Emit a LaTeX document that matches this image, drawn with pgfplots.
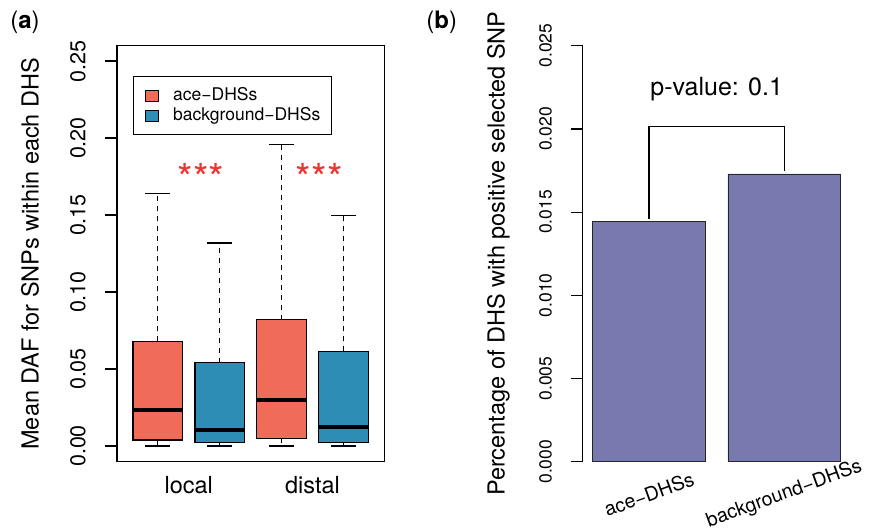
\documentclass[border=0pt]{standalone}
\usepackage{fontspec}
\setmainfont{TeX Gyre Heros}
\usepackage{pgfplots}
\pgfplotsset{compat=1.18}
\usepgfplotslibrary{statistics}
\definecolor{acecol}{RGB}{241,107,89}
\definecolor{bgcol}{RGB}{46,141,181}
\definecolor{barcol}{RGB}{120,122,175}
\definecolor{starcol}{RGB}{240,50,50}
\pgfplotsset{
  myboxstyle/.style={
    boxplot/draw/upper whisker/.code={%
      \draw[dash pattern=on 5pt off 5pt] (boxplot box cs:\pgfplotsboxplotvalue{upper quartile},0.5) -- (boxplot box cs:\pgfplotsboxplotvalue{upper whisker},0.5);
      \draw[solid] (boxplot whisker cs:\pgfplotsboxplotvalue{upper whisker},0) -- (boxplot whisker cs:\pgfplotsboxplotvalue{upper whisker},1);
    },
    boxplot/draw/lower whisker/.code={%
      \draw[dash pattern=on 5pt off 5pt] (boxplot box cs:\pgfplotsboxplotvalue{lower quartile},0.5) -- (boxplot box cs:\pgfplotsboxplotvalue{lower whisker},0.5);
      \draw[solid] (boxplot whisker cs:\pgfplotsboxplotvalue{lower whisker},0) -- (boxplot whisker cs:\pgfplotsboxplotvalue{lower whisker},1);
    },
    boxplot/every median/.style={line width=3.8pt},
  }
}
\begin{document}
\begin{tikzpicture}
\useasboundingbox (0,0) rectangle (870pt,531pt);
\node[font=\fontsize{24}{28}\selectfont] at (25pt,509pt) {(\textbf{a})};
\node[font=\fontsize{24}{28}\selectfont] at (441.7pt,509pt) {(\textbf{b})};

\begin{axis}[
  at={(117pt,69.3pt)}, anchor=south west, scale only axis,
  width=267.3pt, height=416pt,
  xmin=0.34, xmax=4.66, ymin=-0.0102, ymax=0.26,
  axis line style={line width=1.2pt},
  tick align=outside, major tick length=12pt,
  ytick pos=left,
  ytick={0,0.05,0.10,0.15,0.20,0.25},
  ytick style={line width=1.2pt, black},
  /pgf/number format/fixed, /pgf/number format/fixed zerofill,
  /pgf/number format/precision=2, /pgf/number format/assume math mode=true,
  yticklabel style={xshift=-19pt, rotate=90, anchor=south, inner sep=0pt, font=\fontsize{21.5}{22}\selectfont},
  xtick={1.5,3.5}, xticklabels={local,distal}, xtick style={draw=none},
  xticklabel style={yshift=-19.3pt, anchor=base, inner sep=0pt, font=\fontsize{23.5}{28}\selectfont},
  ylabel={Mean DAF for SNPs within each DHS},
  ylabel style={at={(axis description cs:-0.3255,0.5)}, anchor=center, font=\fontsize{23.5}{28}\selectfont},
  boxplot/draw direction=y,
  myboxstyle,
  legend style={at={(0.061,0.926)}, anchor=north west, draw=black, line width=1pt,
    font=\fontsize{17.5}{20}\selectfont, inner xsep=11pt, inner ysep=10pt, row sep=2pt,
    nodes={inner sep=0pt, text height=13.5pt, text depth=4.5pt},
    /tikz/every odd column/.append style={column sep=14pt}},
  legend cell align=left,
]
\addlegendimage{legend image code/.code={\draw[fill=acecol,draw=black,line width=0.8pt] (0pt,-5.5pt) rectangle (13.6pt,5.5pt);}}
\addlegendentry{ace−DHSs}
\addlegendimage{legend image code/.code={\draw[fill=bgcol,draw=black,line width=0.8pt] (0pt,-5.5pt) rectangle (13.6pt,5.5pt);}}
\addlegendentry{background−DHSs}
\addplot[boxplot prepared={lower whisker=0, lower quartile=0.0039, median=0.0232, upper quartile=0.068, upper whisker=0.1641, draw position=1, box extend=0.8, whisker extend=0.4}, fill=acecol, draw=black, line width=1.2pt] coordinates {};
\addplot[boxplot prepared={lower whisker=0, lower quartile=0.0024, median=0.0102, upper quartile=0.0541, upper whisker=0.1318, draw position=2, box extend=0.8, whisker extend=0.4}, fill=bgcol, draw=black, line width=1.2pt] coordinates {};
\addplot[boxplot prepared={lower whisker=0, lower quartile=0.005, median=0.0297, upper quartile=0.082, upper whisker=0.1959, draw position=3, box extend=0.8, whisker extend=0.4}, fill=acecol, draw=black, line width=1.2pt] coordinates {};
\addplot[boxplot prepared={lower whisker=0, lower quartile=0.0024, median=0.0123, upper quartile=0.0615, upper whisker=0.1496, draw position=4, box extend=0.8, whisker extend=0.4}, fill=bgcol, draw=black, line width=1.2pt] coordinates {};
\node[text=starcol, font=\fontsize{40}{40}\selectfont] at (axis cs:1.70,0.174) {***};
\node[text=starcol, font=\fontsize{40}{40}\selectfont] at (axis cs:3.61,0.174) {***};
\end{axis}

\begin{axis}[
  at={(582.8pt,69.3pt)}, anchor=south west, scale only axis,
  width=267.8pt, height=416pt,
  xmin=0.112, xmax=2.488, ymin=0, ymax=0.025,
  axis y line*=left, axis x line*=bottom, x axis line style={draw=none},
  y axis line style={line width=1.2pt},
  tick align=outside, major tick length=12pt,
  ytick={0,0.005,0.010,0.015,0.020,0.025},
  ytick style={line width=1.2pt, black},
  /pgf/number format/fixed, /pgf/number format/fixed zerofill,
  /pgf/number format/precision=3, /pgf/number format/assume math mode=true,
  yticklabel style={xshift=-18.6pt, rotate=90, anchor=south, inner sep=0pt, font=\fontsize{17.5}{18}\selectfont},
  scaled y ticks=false,
  xtick={0.7,1.9}, xticklabels={ace−DHSs,background−DHSs}, xtick style={draw=none},
  xticklabel style={yshift=-20.5pt, rotate=20, anchor=center, inner sep=0pt, font=\fontsize{19.5}{22}\selectfont},
  ylabel={Percentage of DHS with positive selected SNP},
  ylabel style={at={(axis description cs:-0.3155,0.5)}, anchor=center, font=\fontsize{23.5}{28}\selectfont},
  clip=false,
]
\addplot[ybar, bar width=1, fill=barcol, draw=black!85, line width=0.9pt] coordinates {(0.7,0.01445) (1.9,0.01729)};
\addplot[black, line width=1.2pt, sharp plot, mark=none] coordinates {(0.7,0.01459) (0.7,0.02016) (1.9,0.02016) (1.9,0.01747)};
\node[font=\fontsize{25}{30}\selectfont] at (axis cs:1.3,0.02238) {p-value: 0.1};
\end{axis}
\end{tikzpicture}
\end{document}
